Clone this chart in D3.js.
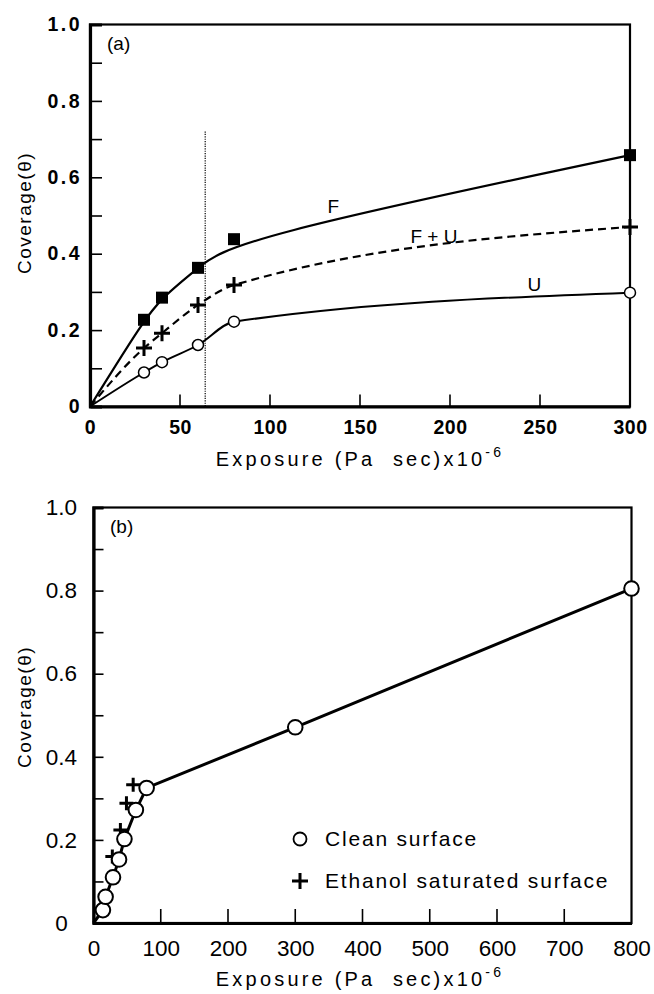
<!DOCTYPE html>
<html>
<head>
<meta charset="utf-8">
<script src="https://cdn.jsdelivr.net/npm/d3@7"></script>
<style>
  body { margin: 0; background: #fff; }
  text { font-family: "Liberation Sans", Arial, sans-serif; fill: #000; }
</style>
</head>
<body>
<svg id="chart" width="654" height="994"></svg>
<script>
// ---- panel (a) data ----
const expA = [30, 40, 60, 80, 300];
const covF = [0.227, 0.285, 0.363, 0.438, 0.658];
const covFU = [0.153, 0.192, 0.266, 0.318, 0.470];
const covU = [0.089, 0.116, 0.161, 0.222, 0.298];
const cutA = 64;
const xTicksA = [0, 50, 100, 150, 200, 250, 300];
const yTicks = [0, 0.1, 0.2, 0.3, 0.4, 0.5, 0.6, 0.7, 0.8, 0.9, 1.0];
const yLabels = ['0', '0.2', '0.4', '0.6', '0.8', '1.0'];

// ---- panel (b) data ----
const expClean = [14, 18, 29, 38, 46, 63, 79, 300, 800];
const covClean = [0.031, 0.063, 0.110, 0.153, 0.202, 0.272, 0.325, 0.471, 0.805];
const expEth = [28, 40, 49, 59];
const covEth = [0.160, 0.224, 0.288, 0.333];
const xTicksB = [0, 100, 200, 300, 400, 500, 600, 700, 800];

const svg = d3.select('#chart');
const fmtY = d => d === 0 ? '0' : d3.format('.1f')(d);
const FONT = '"Liberation Sans", Arial, sans-serif';

// ================= panel (a) =================
const xA = d3.scaleLinear().domain([0, 300]).range([90, 630]);
const yA = d3.scaleLinear().domain([0, 1]).range([406.5, 24.5]);
const gA = svg.append('g');

gA.append('rect')
  .attr('x', xA(0)).attr('y', yA(1))
  .attr('width', xA(300) - xA(0)).attr('height', yA(0) - yA(1))
  .attr('fill', 'none').attr('stroke', '#000').attr('stroke-width', 2.2);

const yAxisA = d3.axisLeft(yA).tickValues(yTicks).tickSize(-12).tickPadding(8)
  .tickFormat(d => yLabels.includes(fmtY(d)) ? fmtY(d) : '');
gA.append('g').attr('transform', `translate(${xA(0)},0)`).call(yAxisA)
  .call(g => g.select('.domain').attr('stroke-width', 3.2))
  .call(g => g.selectAll('.tick line').attr('stroke-width', 1.6))
  .call(g => g.selectAll('.tick text').attr('font-size', 19.5).attr('font-weight', 'bold')
    .attr('letter-spacing', 2.5).attr('font-family', FONT));

const xAxisA = d3.axisBottom(xA).tickValues(xTicksA).tickSize(0).tickPadding(14)
  .tickFormat(d3.format('d'));
gA.append('g').attr('transform', `translate(0,${yA(0)})`).call(xAxisA)
  .call(g => g.select('.domain').attr('stroke-width', 3.2))
  .call(g => g.selectAll('.tick text').attr('font-size', 19.5).attr('font-weight', 'bold')
    .attr('letter-spacing', 0.5).attr('font-family', FONT));
gA.selectAll('.xtick').data(xTicksA.slice(1, -1)).join('line')
  .attr('x1', d => xA(d)).attr('x2', d => xA(d))
  .attr('y1', yA(0)).attr('y2', yA(0) - 12)
  .attr('stroke', '#000').attr('stroke-width', 1.6);

// dotted cut line
gA.append('line')
  .attr('x1', xA(cutA)).attr('x2', xA(cutA))
  .attr('y1', yA(0.72)).attr('y2', yA(0))
  .attr('stroke', '#000').attr('stroke-width', 1.2).attr('stroke-dasharray', '1.2,1.2');

const line = c => d3.line().x(d => xA(d[0])).y(d => yA(d[1])).curve(c);
const withOrigin = ys => [[0, 0]].concat(expA.map((x, i) => [x, ys[i]]));

gA.append('path').attr('d', line(d3.curveBasis)(withOrigin(covF)))
  .attr('fill', 'none').attr('stroke', '#000').attr('stroke-width', 2.2);
gA.append('path').attr('d', line(d3.curveMonotoneX)(withOrigin(covFU)))
  .attr('fill', 'none').attr('stroke', '#000').attr('stroke-width', 2.2).attr('stroke-dasharray', '8,5');
gA.append('path').attr('d', line(d3.curveMonotoneX)(withOrigin(covU)))
  .attr('fill', 'none').attr('stroke', '#000').attr('stroke-width', 2);

gA.selectAll('.sq').data(expA.map((x, i) => [x, covF[i]])).join('rect')
  .attr('x', d => xA(d[0]) - 6).attr('y', d => yA(d[1]) - 6)
  .attr('width', 12).attr('height', 12).attr('fill', '#000');

gA.selectAll('.cr').data(expA.map((x, i) => [x, covFU[i]])).join('path')
  .attr('d', d => `M${xA(d[0]) - 8},${yA(d[1])}h16M${xA(d[0])},${yA(d[1]) - 8}v16`)
  .attr('stroke', '#000').attr('stroke-width', 3);

gA.selectAll('.ci').data(expA.map((x, i) => [x, covU[i]])).join('circle')
  .attr('cx', d => xA(d[0])).attr('cy', d => yA(d[1])).attr('r', 5.5)
  .attr('fill', '#fff').attr('stroke', '#000').attr('stroke-width', 1.5);

const labA = gA.append('g').attr('font-size', 19);
labA.append('text').attr('x', xA(132)).attr('y', yA(0.506)).text('F');
labA.append('text').attr('x', xA(178)).attr('y', yA(0.428)).text('F + U');
labA.append('text').attr('x', xA(243)).attr('y', yA(0.302)).text('U');
gA.append('text').attr('x', 107).attr('y', 50).attr('font-size', 19).text('(a)');

const xTitle = (g, x, y) => {
  const t = g.append('text').attr('x', x).attr('y', y).attr('text-anchor', 'middle')
    .attr('font-size', 20).attr('letter-spacing', 3.2);
  t.append('tspan').text('Exposure (Pa\u00a0 sec)x10');
  t.append('tspan').attr('dy', -9).attr('font-size', 14).text('-6');
};
xTitle(gA, 360, 466);
gA.append('text').attr('transform', 'translate(31,213) rotate(-90)')
  .attr('text-anchor', 'middle').attr('font-size', 19).attr('letter-spacing', 1.5)
  .text('Coverage(\u03b8)');

// ================= panel (b) =================
const xB = d3.scaleLinear().domain([0, 800]).range([93.5, 631.5]);
const yB = d3.scaleLinear().domain([0, 1]).range([923, 507.5]);
const gB = svg.append('g');

gB.append('rect')
  .attr('x', xB(0)).attr('y', yB(1))
  .attr('width', xB(800) - xB(0)).attr('height', yB(0) - yB(1))
  .attr('fill', 'none').attr('stroke', '#000').attr('stroke-width', 2.2);

const yAxisB = d3.axisLeft(yB).tickValues(yTicks).tickSize(-10).tickPadding(32)
  .tickFormat(d => yLabels.includes(fmtY(d)) ? fmtY(d) : '');
gB.append('g').attr('transform', `translate(${xB(0)},0)`).call(yAxisB)
  .call(g => g.select('.domain').attr('stroke-width', 3.2))
  .call(g => g.selectAll('.tick line').attr('stroke-width', 1.6))
  .call(g => g.selectAll('.tick text').attr('font-size', 22.5).attr('text-anchor', 'middle')
    .attr('font-family', FONT));

const xAxisB = d3.axisBottom(xB).tickValues(xTicksB).tickSize(0).tickPadding(17)
  .tickFormat(d3.format('d'));
gB.append('g').attr('transform', `translate(0,${yB(0)})`).call(xAxisB)
  .call(g => g.select('.domain').attr('stroke-width', 3.2))
  .call(g => g.selectAll('.tick text').attr('font-size', 22.5).attr('font-family', FONT));
gB.selectAll('.xtick').data(xTicksB.slice(1, -1)).join('line')
  .attr('x1', d => xB(d)).attr('x2', d => xB(d))
  .attr('y1', yB(0)).attr('y2', yB(0) - 14)
  .attr('stroke', '#000').attr('stroke-width', 1.6);

const lineB = d3.line().x(d => xB(d[0])).y(d => yB(d[1]));
gB.append('path')
  .attr('d', lineB([[0, 0]].concat(expClean.map((x, i) => [x, covClean[i]]))))
  .attr('fill', 'none').attr('stroke', '#000').attr('stroke-width', 3);

gB.selectAll('.cr').data(expEth.map((x, i) => [x, covEth[i]])).join('path')
  .attr('d', d => `M${xB(d[0]) - 7},${yB(d[1])}h14M${xB(d[0])},${yB(d[1]) - 7}v14`)
  .attr('stroke', '#000').attr('stroke-width', 3);

gB.selectAll('.ci').data(expClean.map((x, i) => [x, covClean[i]])).join('circle')
  .attr('cx', d => xB(d[0])).attr('cy', d => yB(d[1])).attr('r', 7.3)
  .attr('fill', '#fff').attr('stroke', '#000').attr('stroke-width', 2);

gB.append('text').attr('x', 110).attr('y', 533).attr('font-size', 19).text('(b)');

const leg = gB.append('g');
leg.append('circle').attr('cx', 300).attr('cy', 839).attr('r', 6.5)
  .attr('fill', '#fff').attr('stroke', '#000').attr('stroke-width', 1.8);
leg.append('path').attr('d', 'M292,881h16M300,873v16').attr('stroke', '#000').attr('stroke-width', 3);
leg.append('text').attr('x', 325).attr('y', 846).attr('font-size', 21).attr('letter-spacing', 1.8)
  .text('Clean surface');
leg.append('text').attr('x', 325).attr('y', 888).attr('font-size', 21).attr('letter-spacing', 1.8)
  .text('Ethanol saturated surface');

xTitle(gB, 360, 986);
gB.append('text').attr('transform', 'translate(31,707) rotate(-90)')
  .attr('text-anchor', 'middle').attr('font-size', 19).attr('letter-spacing', 1.5)
  .text('Coverage(\u03b8)');
</script>
</body>
</html>
